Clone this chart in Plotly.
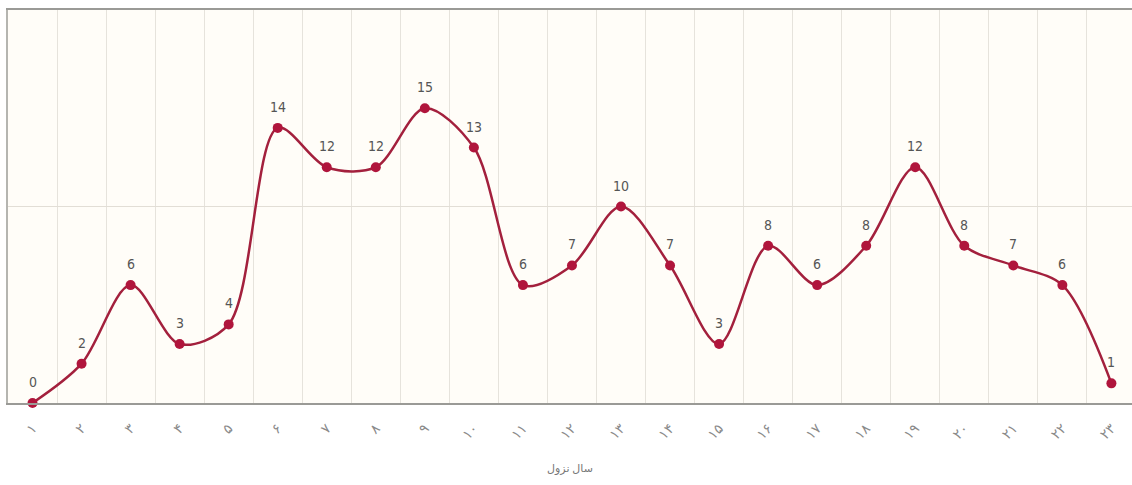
import plotly.graph_objects as go

# Year index and number of revelations per year
years = list(range(1, 24))
year_labels = ["۱", "۲", "۳", "۴", "۵", "۶", "۷", "۸", "۹", "۱۰", "۱۱", "۱۲",
               "۱۳", "۱۴", "۱۵", "۱۶", "۱۷", "۱۸", "۱۹", "۲۰", "۲۱", "۲۲", "۲۳"]
counts = [0, 2, 6, 3, 4, 14, 12, 12, 15, 13, 6, 7, 10, 7, 3, 8, 6, 8, 12, 8, 7, 6, 1]

line_color = "#a3203d"
label_font = dict(family="Liberation Sans Narrow, Arial Narrow, DejaVu Sans Condensed, sans-serif",
                  size=14, color="#555555")

fig = go.Figure()
fig.add_trace(go.Scatter(
    x=years,
    y=counts,
    mode="lines+markers",
    line=dict(color=line_color, width=2.5, shape="spline", smoothing=0.9),
    marker=dict(color="#b0153c", size=10),
    cliponaxis=False,
    hoverinfo="x+y",
    showlegend=False,
))

# Value labels above each point
for x, v in zip(years, counts):
    fig.add_annotation(x=x, y=v, text=str(v), showarrow=False,
                       yshift=21, font=label_font)

fig.update_layout(
    width=1132,
    height=485,
    margin=dict(l=8, r=0, t=10, b=82),
    paper_bgcolor="white",
    plot_bgcolor="#fffdf8",
    font=dict(family="Noto Sans, DejaVu Sans, sans-serif", color="#666666"),
    xaxis=dict(
        range=[0.5, 23.42],
        tickmode="array",
        tickvals=years,
        ticktext=year_labels,
        tickangle=-45,
        tickfont=dict(size=14, color="#8a8a8a"),
        showgrid=False,
        ticks="outside",
        ticklen=10,
        tickcolor="rgba(0,0,0,0)",
        minor=dict(tick0=0.5, dtick=1, showgrid=True, gridcolor="#e6e3dc", gridwidth=1, ticks=""),
        showline=True,
        linecolor="#9a9a96",
        linewidth=1.5,
        mirror=True,
        zeroline=False,
        title=dict(text="سال نزول", font=dict(size=11, color="#777777"), standoff=22),
    ),
    yaxis=dict(
        range=[0, 20],
        tickmode="array",
        tickvals=[10],
        showticklabels=False,
        showgrid=True,
        gridcolor="#e2ded6",
        gridwidth=1,
        zeroline=False,
        showline=True,
        linecolor="#b5b5b0",
        linewidth=1.5,
        mirror=False,
        ticks="",
    ),
)

fig.write_html("out.html")
